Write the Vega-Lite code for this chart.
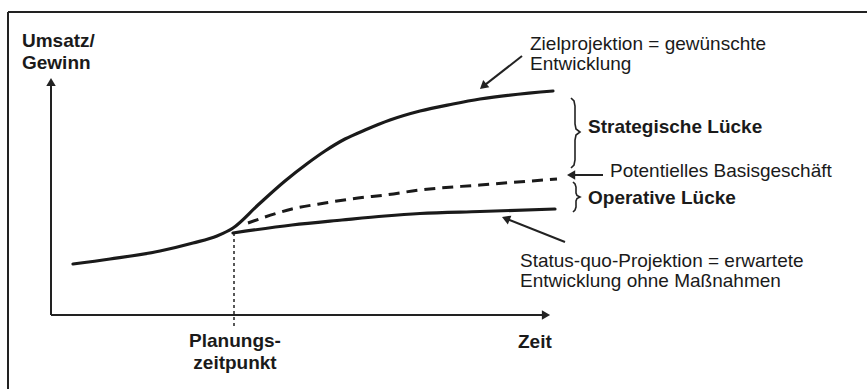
{
  "$schema": "https://vega.github.io/schema/vega-lite/v6.json",
  "width": 867,
  "height": 389,
  "padding": 0,
  "autosize": {"type": "none"},
  "background": "white",
  "config": {"view": {"stroke": null}},
  "datasets": {
    "curves": [
      {"series": "Zielprojektion", "t": 4.4, "v": 21.25},
      {"series": "Zielprojektion", "t": 11.8, "v": 23.33},
      {"series": "Zielprojektion", "t": 21.8, "v": 26.67},
      {"series": "Zielprojektion", "t": 28.4, "v": 30.0},
      {"series": "Zielprojektion", "t": 33.2, "v": 32.92},
      {"series": "Zielprojektion", "t": 36.4, "v": 36.25},
      {"series": "Zielprojektion", "t": 41.4, "v": 45.83},
      {"series": "Zielprojektion", "t": 46.8, "v": 55.83},
      {"series": "Zielprojektion", "t": 51.4, "v": 63.33},
      {"series": "Zielprojektion", "t": 54.8, "v": 68.33},
      {"series": "Zielprojektion", "t": 58.8, "v": 73.33},
      {"series": "Zielprojektion", "t": 62.8, "v": 77.08},
      {"series": "Zielprojektion", "t": 67.8, "v": 81.25},
      {"series": "Zielprojektion", "t": 73.8, "v": 85.0},
      {"series": "Zielprojektion", "t": 80.4, "v": 87.92},
      {"series": "Zielprojektion", "t": 85.8, "v": 90.0},
      {"series": "Zielprojektion", "t": 100.4, "v": 93.33},
      {"series": "Status-quo", "t": 36.4, "v": 34.17},
      {"series": "Status-quo", "t": 48.2, "v": 37.5},
      {"series": "Status-quo", "t": 58.2, "v": 39.58},
      {"series": "Status-quo", "t": 66.8, "v": 41.25},
      {"series": "Status-quo", "t": 73.8, "v": 42.29},
      {"series": "Status-quo", "t": 85.8, "v": 43.13},
      {"series": "Status-quo", "t": 100.8, "v": 44.17},
      {"series": "Potentiell", "t": 39.4, "v": 38.33},
      {"series": "Potentiell", "t": 48.2, "v": 44.17},
      {"series": "Potentiell", "t": 54.8, "v": 46.67},
      {"series": "Potentiell", "t": 61.4, "v": 48.75},
      {"series": "Potentiell", "t": 66.8, "v": 50.0},
      {"series": "Potentiell", "t": 73.8, "v": 52.08},
      {"series": "Potentiell", "t": 85.8, "v": 54.17},
      {"series": "Potentiell", "t": 101.2, "v": 56.67}
    ],
    "braces": [
      {"brace": "strategisch", "i": 1, "t": 104.0, "v": 90.42},
      {"brace": "strategisch", "i": 2, "t": 104.6, "v": 89.17},
      {"brace": "strategisch", "i": 3, "t": 104.8, "v": 87.08},
      {"brace": "strategisch", "i": 4, "t": 104.8, "v": 79.58},
      {"brace": "strategisch", "i": 5, "t": 105.0, "v": 77.5},
      {"brace": "strategisch", "i": 6, "t": 105.8, "v": 76.25},
      {"brace": "strategisch", "i": 7, "t": 105.0, "v": 75.0},
      {"brace": "strategisch", "i": 8, "t": 104.8, "v": 72.92},
      {"brace": "strategisch", "i": 9, "t": 104.8, "v": 64.58},
      {"brace": "strategisch", "i": 10, "t": 104.6, "v": 62.5},
      {"brace": "strategisch", "i": 11, "t": 104.0, "v": 61.25},
      {"brace": "operativ", "i": 1, "t": 104.4, "v": 55.42},
      {"brace": "operativ", "i": 2, "t": 104.8, "v": 54.58},
      {"brace": "operativ", "i": 3, "t": 105.0, "v": 53.33},
      {"brace": "operativ", "i": 4, "t": 105.0, "v": 50.83},
      {"brace": "operativ", "i": 5, "t": 105.2, "v": 49.79},
      {"brace": "operativ", "i": 6, "t": 105.8, "v": 49.17},
      {"brace": "operativ", "i": 7, "t": 105.2, "v": 48.54},
      {"brace": "operativ", "i": 8, "t": 105.0, "v": 47.5},
      {"brace": "operativ", "i": 9, "t": 105.0, "v": 45.0},
      {"brace": "operativ", "i": 10, "t": 104.8, "v": 43.75},
      {"brace": "operativ", "i": 11, "t": 104.4, "v": 42.92}
    ],
    "rules": [
      {"kind": "frame", "t": -8.6, "v": 126.25, "t2": 163.2, "v2": 126.25},
      {"kind": "frame", "t": -8.6, "v": 126.25, "t2": -8.6, "v2": -30.83},
      {"kind": "axis", "t": 0, "v": 0, "t2": 0, "v2": 96.25},
      {"kind": "axis", "t": 0, "v": 0, "t2": 98.6, "v2": 0},
      {"kind": "planning", "t": 36.6, "v": 34.17, "t2": 36.6, "v2": -5.42},
      {"kind": "pointer", "t": 94.2, "v": 107.92, "t2": 86.42, "v2": 95.27},
      {"kind": "pointer", "t": 102.8, "v": 30.42, "t2": 90.96, "v2": 40.21},
      {"kind": "pointer", "t": 110.4, "v": 58.33, "t2": 104.02, "v2": 58.33}
    ],
    "heads": [
      {"t": 0, "v": 97.08, "angle": 0},
      {"t": 99.0, "v": 0, "angle": 90},
      {"t": 86.42, "v": 95.27, "angle": 230},
      {"t": 90.96, "v": 40.21, "angle": 292},
      {"t": 104.02, "v": 58.33, "angle": 270}
    ],
    "labels": [
      {"text": "Umsatz/", "role": "axis", "t": -5.8, "v": 111.67},
      {"text": "Gewinn", "role": "axis", "t": -5.8, "v": 102.5},
      {"text": "Zeit", "role": "axis", "t": 93.4, "v": -13.75},
      {"text": "Planungs-", "role": "event", "t": 36.8, "v": -13.33},
      {"text": "zeitpunkt", "role": "event", "t": 36.8, "v": -22.5},
      {"text": "Strategische Lücke", "role": "gap", "t": 107.4, "v": 75.83},
      {"text": "Operative Lücke", "role": "gap", "t": 107.4, "v": 46.25},
      {"text": "Zielprojektion = gewünschte", "role": "note", "t": 95.8, "v": 110.42},
      {"text": "Entwicklung", "role": "note", "t": 95.8, "v": 102.08},
      {"text": "Potentielles Basisgeschäft", "role": "note", "t": 111.8, "v": 57.5},
      {"text": "Status-quo-Projektion = erwartete", "role": "note", "t": 93.8, "v": 20.0},
      {"text": "Entwicklung ohne Maßnahmen", "role": "note", "t": 93.8, "v": 11.67}
    ]
  },
  "encoding": {
    "x": {"field": "t", "type": "quantitative", "scale": {"domain": [-10.2, 163.2], "nice": false, "zero": false}, "axis": null},
    "y": {"field": "v", "type": "quantitative", "scale": {"domain": [-30.83, 131.25], "nice": false, "zero": false}, "axis": null}
  },
  "layer": [
    {
      "data": {"name": "rules"},
      "transform": [{"filter": "datum.kind === 'frame'"}],
      "mark": {"type": "rule", "color": "#222222", "strokeWidth": 2},
      "encoding": {"x2": {"field": "t2"}, "y2": {"field": "v2"}}
    },
    {
      "data": {"name": "rules"},
      "transform": [{"filter": "datum.kind === 'axis'"}],
      "mark": {"type": "rule", "color": "#222222", "strokeWidth": 2},
      "encoding": {"x2": {"field": "t2"}, "y2": {"field": "v2"}}
    },
    {
      "data": {"name": "rules"},
      "transform": [{"filter": "datum.kind === 'planning'"}],
      "mark": {"type": "rule", "color": "#222222", "strokeWidth": 1.5, "strokeDash": [3, 3]},
      "encoding": {"x2": {"field": "t2"}, "y2": {"field": "v2"}}
    },
    {
      "data": {"name": "rules"},
      "transform": [{"filter": "datum.kind === 'pointer'"}],
      "mark": {"type": "rule", "color": "#222222", "strokeWidth": 2},
      "encoding": {"x2": {"field": "t2"}, "y2": {"field": "v2"}}
    },
    {
      "data": {"name": "heads"},
      "mark": {"type": "point", "shape": "triangle-up", "filled": true, "color": "#222222", "opacity": 1, "size": 90},
      "encoding": {"angle": {"field": "angle", "type": "quantitative", "scale": null}}
    },
    {
      "data": {"name": "curves"},
      "transform": [{"filter": "datum.series !== 'Potentiell'"}],
      "mark": {"type": "line", "color": "#1a1a1a", "strokeWidth": 3.2, "interpolate": "monotone", "strokeCap": "round"},
      "encoding": {"detail": {"field": "series"}}
    },
    {
      "data": {"name": "curves"},
      "transform": [{"filter": "datum.series === 'Potentiell'"}],
      "mark": {"type": "line", "color": "#1a1a1a", "strokeWidth": 3, "interpolate": "monotone", "strokeDash": [11, 7]},
      "encoding": {"detail": {"field": "series"}}
    },
    {
      "data": {"name": "braces"},
      "mark": {"type": "line", "color": "#222222", "strokeWidth": 1.6, "interpolate": "linear"},
      "encoding": {"detail": {"field": "brace"}, "order": {"field": "i", "type": "quantitative"}}
    },
    {
      "data": {"name": "labels"},
      "transform": [{"filter": "datum.role === 'axis' || datum.role === 'gap'"}],
      "mark": {"type": "text", "align": "left", "baseline": "alphabetic", "font": "Liberation Sans", "fontSize": 19, "fontWeight": "bold", "color": "#1a1a1a"},
      "encoding": {"text": {"field": "text"}}
    },
    {
      "data": {"name": "labels"},
      "transform": [{"filter": "datum.role === 'event'"}],
      "mark": {"type": "text", "align": "center", "baseline": "alphabetic", "font": "Liberation Sans", "fontSize": 19, "fontWeight": "bold", "color": "#1a1a1a"},
      "encoding": {"text": {"field": "text"}}
    },
    {
      "data": {"name": "labels"},
      "transform": [{"filter": "datum.role === 'note'"}],
      "mark": {"type": "text", "align": "left", "baseline": "alphabetic", "font": "Liberation Sans", "fontSize": 19, "color": "#1a1a1a"},
      "encoding": {"text": {"field": "text"}}
    }
  ]
}
